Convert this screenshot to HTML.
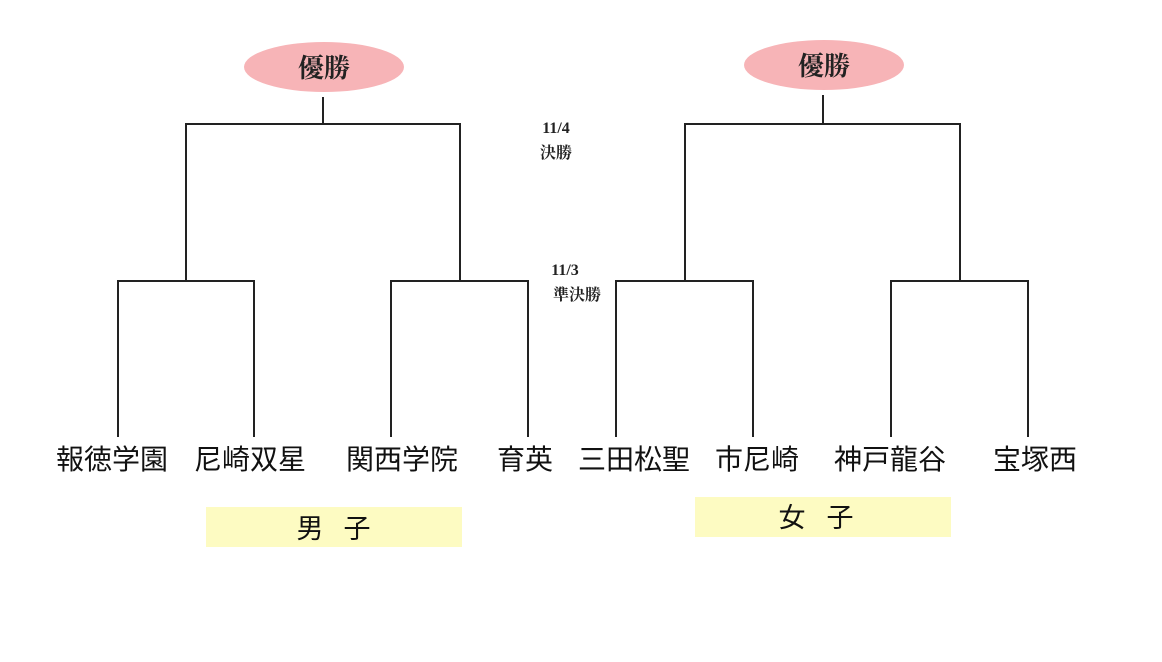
<!DOCTYPE html>
<html><head><meta charset="utf-8"><style>
body{margin:0;background:#fff}
</style></head><body>
<svg width="1162" height="657" xmlns="http://www.w3.org/2000/svg">
<rect width="1162" height="657" fill="#fff"/>
<g stroke="#222" stroke-width="2" fill="none">
<path d="M323 97V124M186 280V124H460V280"/>
<path d="M118 437V281H254V437M391 437V281H528V437"/>
<path d="M823 95V124M685 280V124H960V280"/>
<path d="M616 437V281H753V437M891 437V281H1028V437"/>
</g>
<ellipse cx="324" cy="67" rx="80" ry="25" fill="#f7b4b7"/>
<ellipse cx="824" cy="65" rx="80" ry="25" fill="#f7b4b7"/>
<g font-family="Liberation Serif, Noto Serif CJK SC, serif" font-weight="bold" fill="#222" text-anchor="middle">
<text x="324" y="77" font-size="26">優勝</text>
<text x="824" y="75" font-size="26">優勝</text>
<text x="556" y="133" font-size="16">11/4</text>
<text x="556" y="158" font-size="16">決勝</text>
<text x="565" y="275" font-size="16">11/3</text>
<text x="577" y="300" font-size="16">準決勝</text>
</g>
<rect x="206" y="507" width="256" height="40" fill="#fdfbc2"/>
<rect x="695" y="497" width="256" height="40" fill="#fdfbc2"/>
<g font-family="Liberation Sans, Noto Sans CJK JP, sans-serif" fill="#111" text-anchor="middle" font-size="28">
<text x="112" y="469">報徳学園</text>
<text x="250" y="469">尼崎双星</text>
<text x="402" y="469">関西学院</text>
<text x="525" y="469">育英</text>
<text x="634" y="469">三田松聖</text>
<text x="757" y="469">市尼崎</text>
<text x="890" y="469">神戸龍谷</text>
<text x="1035" y="469">宝塚西</text>
<text x="310" y="538" font-size="27">男</text>
<text x="357" y="538" font-size="27">子</text>
<text x="792" y="527" font-size="27">女</text>
<text x="840" y="527" font-size="27">子</text>
</g>
</svg>
</body></html>
